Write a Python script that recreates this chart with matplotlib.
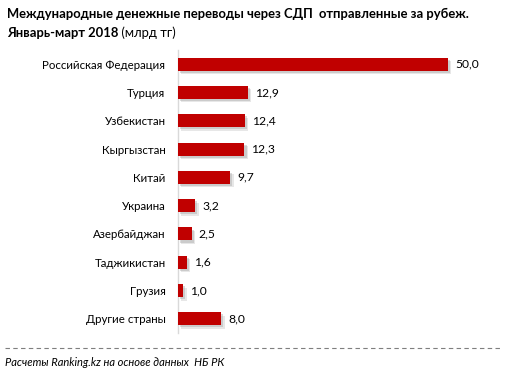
import matplotlib
matplotlib.use("Agg")
import matplotlib.pyplot as plt
import matplotlib.patheffects as pe
from matplotlib.lines import Line2D

categories = ["Российская Федерация", "Турция", "Узбекистан", "Кыргызстан", "Китай",
              "Украина", "Азербайджан", "Таджикистан", "Грузия", "Другие страны"]
values = [50.0, 12.9, 12.4, 12.3, 9.7, 3.2, 2.5, 1.6, 1.0, 8.0]
value_labels = ["50,0", "12,9", "12,4", "12,3", "9,7", "3,2", "2,5", "1,6", "1,0", "8,0"]

title_bold_1 = "Международные денежные переводы через СДП  отправленные за рубеж."
title_bold_2 = "Январь-март 2018"
title_rest = " (млрд тг)"
footer = "Расчеты Ranking.kz на основе данных  НБ РК"

FONT = "Lato"
W, H = 518, 375
fig = plt.figure(figsize=(W / 100, H / 100), dpi=100)
fig.patch.set_facecolor("white")

ax = fig.add_axes([178 / W, 1 - 333 / H, (475 - 178) / W, (333 - 50) / H])
ypos = list(range(len(categories)))
bars = ax.barh(ypos, values, height=0.46, color="#c00000", zorder=3)
for b in bars:
    b.set_path_effects([
        pe.SimplePatchShadow(offset=(2.5, -2.5), shadow_rgbFace="#bbbbbb", alpha=0.35),
        pe.SimplePatchShadow(offset=(1.5, -1.5), shadow_rgbFace="#999999", alpha=0.35),
        pe.Normal()])

ax.set_xlim(0, 55)
ax.set_ylim(len(categories) - 0.5, -0.5)
ax.set_yticks(ypos)
ax.set_yticklabels(categories, fontsize=8.3, family=FONT, color="#000000")
ax.tick_params(axis="y", length=0, pad=9)
ax.set_xticks([])
for s in ["top", "right", "bottom"]:
    ax.spines[s].set_visible(False)
ax.spines["left"].set_color("#d9d9d9")
ax.spines["left"].set_linewidth(1)

for y, v, lab in zip(ypos, values, value_labels):
    ax.text(v + 1.3, y, lab, va="center", ha="left", fontsize=8.7, family=FONT, color="#000000")

fig.text(7 / W, 1 - 14 / H, title_bold_1, fontsize=9.4, fontweight="bold", family=FONT, va="center", ha="left")
t2 = fig.text(7 / W, 1 - 33 / H, title_bold_2, fontsize=9.4, fontweight="bold", family=FONT, va="center", ha="left")
fig.canvas.draw()
bb = t2.get_window_extent()
fig.text(bb.x1 / W, 1 - 33 / H, title_rest, fontsize=9.4, family=FONT, va="center", ha="left")

fig.add_artist(Line2D([5 / W, 500 / W], [1 - 348 / H, 1 - 348 / H], color="#7f7f7f", lw=0.8, ls=(0, (4, 3))))
fig.text(5 / W, 1 - 362 / H, footer, fontsize=8, style="italic", family=FONT, va="center", ha="left")

fig.savefig("out.png", dpi=100)
